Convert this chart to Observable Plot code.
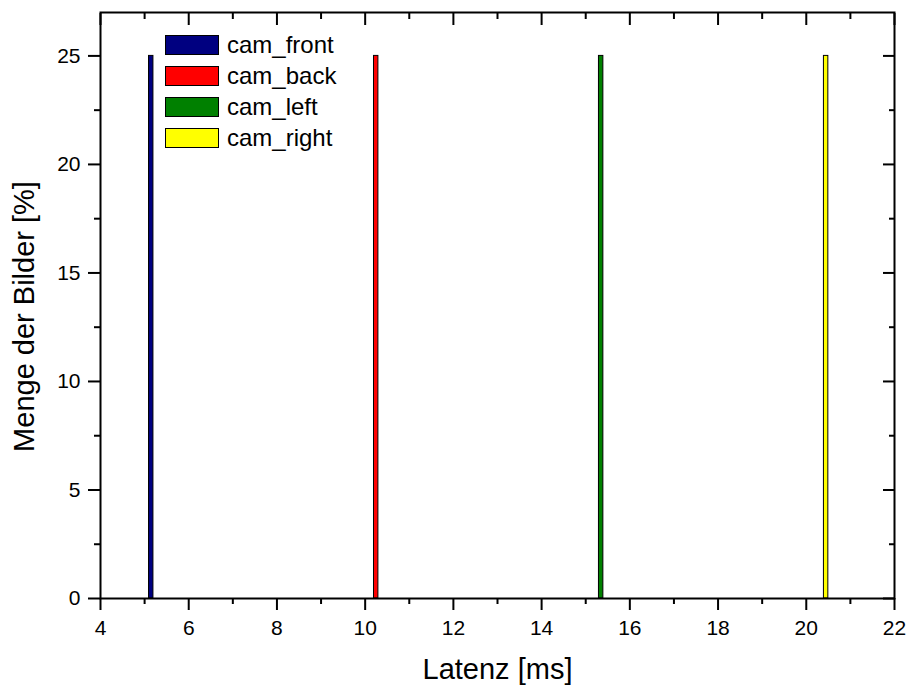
<!DOCTYPE html>
<html>
<head>
<meta charset="utf-8">
<script src="https://cdn.jsdelivr.net/npm/d3@7"></script>
<script src="https://cdn.jsdelivr.net/npm/@observablehq/plot@0.6"></script>
<style>
  html, body { margin: 0; padding: 0; background: #fff; }
  #wrap { position: relative; width: 909px; height: 690px; font-family: "Liberation Sans", Arial, sans-serif; }
  #legend { position: absolute; left: 165px; top: 34px; }
  .row { display: flex; align-items: center; height: 21px; margin-bottom: 10px; }
  .sw { width: 52px; height: 18px; border: 1.5px solid #000; margin-right: 8px; }
  .lab { font-size: 24px; color: #000; line-height: 21px; }
</style>
</head>
<body>
<div id="wrap"><div id="legend"></div></div>
<script>
// Data
const cameras = ["cam_front", "cam_back", "cam_left", "cam_right"];
const binStart = [5.1, 10.2, 15.3, 20.4];
const binEnd = [5.2, 10.3, 15.4, 20.5];
const percent = [25, 25, 25, 25];
const colors = ["#000080", "#FF0000", "#008000", "#FFFF00"];
const xMajor = [4, 6, 8, 10, 12, 14, 16, 18, 20, 22];
const xMinor = [5, 7, 9, 11, 13, 15, 17, 19, 21];
const yMajor = [0, 5, 10, 15, 20, 25];
const yMinor = [2.5, 7.5, 12.5, 17.5, 22.5];
const xTitle = "Latenz [ms]";
const yTitle = "Menge der Bilder [%]";

const bars = cameras.map((c, i) => ({cam: c, x1: binStart[i], x2: binEnd[i], y: percent[i]}));

const font = "Liberation Sans, Arial, sans-serif";

const chart = Plot.plot({
  width: 909,
  height: 690,
  marginLeft: 100,
  marginRight: 15,
  marginTop: 12,
  marginBottom: 92,
  style: {fontFamily: font, background: "#fff", color: "#000", overflow: "visible"},
  x: {domain: [4, 22]},
  y: {domain: [0, 27]},
  color: {domain: cameras, range: colors},
  marks: [
    Plot.rectY(bars, {x1: "x1", x2: "x2", y1: 0, y2: "y", fill: "cam", stroke: "#000", strokeWidth: 1}),
    Plot.frame({stroke: "#000", strokeWidth: 2}),
    // bottom axis
    Plot.axisX({anchor: "bottom", ticks: xMajor, tickSize: 12, tickPadding: 10, strokeWidth: 2, fontSize: 21, label: null, tickFormat: d => String(d)}),
    Plot.axisX({anchor: "bottom", ticks: xMinor, tickSize: 6, strokeWidth: 2, text: null, label: null}),
    // top axis (inward)
    Plot.axisX({anchor: "top", ticks: xMajor, tickSize: -12, strokeWidth: 2, text: null, label: null}),
    Plot.axisX({anchor: "top", ticks: xMinor, tickSize: -6, strokeWidth: 2, text: null, label: null}),
    // left axis
    Plot.axisY({anchor: "left", ticks: yMajor, tickSize: 12, tickPadding: 8, strokeWidth: 2, fontSize: 21, label: null, tickFormat: d => String(d)}),
    Plot.axisY({anchor: "left", ticks: yMinor, tickSize: 6, strokeWidth: 2, text: null, label: null}),
    // right axis (inward)
    Plot.axisY({anchor: "right", ticks: yMajor, tickSize: -12, strokeWidth: 2, text: null, label: null}),
    Plot.axisY({anchor: "right", ticks: yMinor, tickSize: -6, strokeWidth: 2, text: null, label: null}),
    // titles
    Plot.text([xTitle], {frameAnchor: "bottom", textAnchor: "middle", dy: 80, fontSize: 29, fill: "#000"}),
    Plot.text([yTitle], {frameAnchor: "left", textAnchor: "middle", rotate: -90, dx: -76, dy: 11, fontSize: 29, fill: "#000"})
  ]
});

document.getElementById("wrap").prepend(chart);

const legend = document.getElementById("legend");
cameras.forEach((c, i) => {
  const row = document.createElement("div");
  row.className = "row";
  const sw = document.createElement("div");
  sw.className = "sw";
  sw.style.background = colors[i];
  const lab = document.createElement("span");
  lab.className = "lab";
  lab.textContent = c;
  row.appendChild(sw);
  row.appendChild(lab);
  legend.appendChild(row);
});
</script>
</body>
</html>
